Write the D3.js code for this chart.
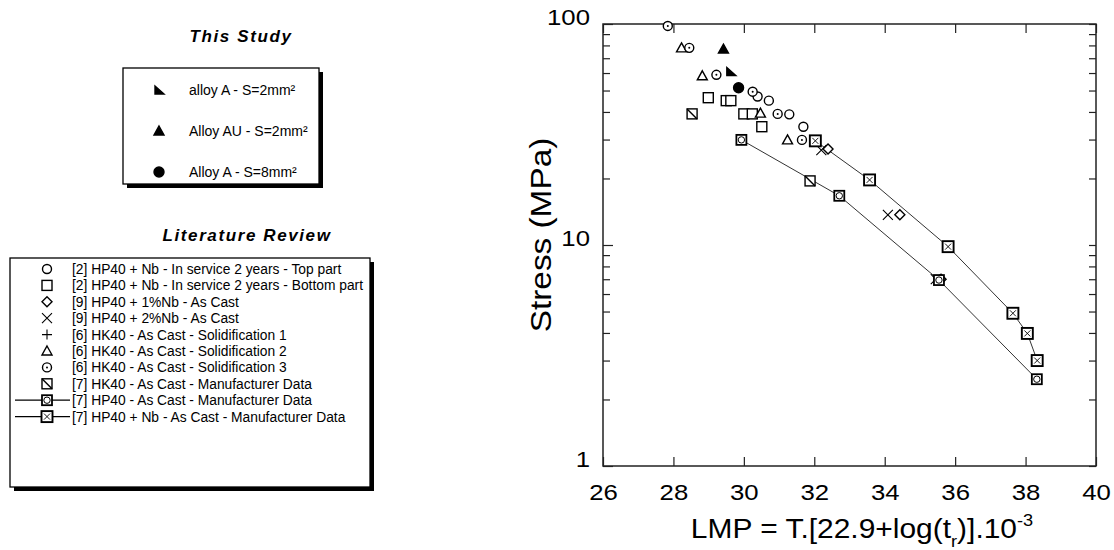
<!DOCTYPE html>
<html>
<head>
<meta charset="utf-8">
<script src="https://cdn.jsdelivr.net/npm/d3@7"></script>
<style>
  body { margin: 0; background: #fff; }
  text { font-family: "Liberation Sans", Arial, sans-serif; fill: #000; }
</style>
</head>
<body>
<svg id="chart" width="1114" height="550"></svg>
<script>
// ---- data: [LMP, stress MPa] ----
const alloyA2 = [[29.63, 61]];
const alloyAU2 = [[29.42, 77]];
const alloyA8 = [[29.85, 51.5]];

const hp40NbTop = [[30.39, 47], [30.71, 45], [31.29, 39], [31.69, 34.3]];
const hp40NbBottom = [[28.99, 46.4], [29.5, 45], [29.63, 45], [30.0, 39.2], [30.24, 39.2], [30.51, 34.3]];
const hp40Nb1 = [[32.39, 27.2], [34.43, 13.7], [35.6, 7]];
const hp40Nb2 = [[32.2, 26.9], [34.09, 13.7], [35.45, 7]];
const hk40Sol1 = [];
const hk40Sol2 = [[28.23, 78], [28.82, 58.3], [30.47, 39.5], [31.24, 29.9]];
const hk40Sol3 = [[27.84, 98], [28.45, 78], [29.22, 58.9], [30.25, 49.4], [30.96, 39.2], [31.65, 29.9]];
const hk40Manuf = [[28.53, 39.2], [31.88, 19.5]];
const hp40Manuf = [[29.93, 29.9], [32.71, 16.7], [35.54, 6.94], [38.32, 2.47]];
const hp40NbManuf = [[32.03, 29.6], [33.57, 19.7], [35.8, 9.83], [37.64, 4.91], [38.05, 3.98], [38.33, 3.0]];

const xTicks = [26, 28, 30, 32, 34, 36, 38, 40];
const yLabels = [1, 10, 100];

const studyLegend = [
  { sym: "rightTri", label: "alloy A - S=2mm²" },
  { sym: "triFill", label: "Alloy AU - S=2mm²" },
  { sym: "dotFill", label: "Alloy A - S=8mm²" },
];
const litLegend = [
  { sym: "circle", label: "[2] HP40 + Nb - In service 2 years - Top part" },
  { sym: "square", label: "[2] HP40 + Nb - In service 2 years - Bottom part" },
  { sym: "diamond", label: "[9] HP40 + 1%Nb - As Cast" },
  { sym: "cross", label: "[9] HP40 + 2%Nb - As Cast" },
  { sym: "plus", label: "[6] HK40 - As Cast - Solidification 1" },
  { sym: "triangle", label: "[6] HK40 - As Cast - Solidification 2" },
  { sym: "circleDot", label: "[6] HK40 - As Cast - Solidification 3" },
  { sym: "squareDiag", label: "[7] HK40 - As Cast - Manufacturer Data" },
  { sym: "squareCircle", label: "[7] HP40 - As Cast - Manufacturer Data", line: true },
  { sym: "squareX", label: "[7] HP40 + Nb - As Cast - Manufacturer Data", line: true },
];

const svg = d3.select("#chart");

// ---- markers ----
function marker(g, sym, cx, cy) {
  const m = g.append("g").attr("transform", `translate(${cx},${cy})`)
    .attr("fill", "#fff").attr("stroke", "#000").attr("stroke-width", 1.4);
  switch (sym) {
    case "circle":
      m.append("circle").attr("r", 4.5); break;
    case "circleDot":
      m.append("circle").attr("r", 4.5);
      m.append("circle").attr("r", 1).attr("fill", "#000").attr("stroke", "none"); break;
    case "square":
      m.append("rect").attr("x", -5).attr("y", -5).attr("width", 10).attr("height", 10); break;
    case "squareDiag":
      m.append("rect").attr("x", -5).attr("y", -5).attr("width", 10).attr("height", 10);
      m.append("line").attr("x1", -5).attr("y1", -5).attr("x2", 5).attr("y2", 5); break;
    case "squareCircle":
      m.append("rect").attr("x", -5).attr("y", -5).attr("width", 10).attr("height", 10).attr("stroke-width", 1.8);
      m.append("circle").attr("r", 3.2).attr("stroke-width", 1); break;
    case "squareX":
      m.append("rect").attr("x", -5.5).attr("y", -5.5).attr("width", 11).attr("height", 11).attr("stroke-width", 1.9);
      m.append("path").attr("d", "M-3,-3L3,3M-3,3L3,-3").attr("stroke-width", 0.9); break;
    case "diamond":
      m.append("path").attr("d", "M0,-5L5,0L0,5L-5,0Z"); break;
    case "cross":
      m.append("path").attr("d", "M-5,-5L5,5M-5,5L5,-5").attr("stroke-width", 1.1); break;
    case "plus":
      m.append("path").attr("d", "M-5,0L5,0M0,-5L0,5").attr("stroke-width", 1.1); break;
    case "triangle":
      m.append("path").attr("d", "M0,-5L5,4L-5,4Z"); break;
    case "triFill":
      m.append("path").attr("d", "M0,-5L5,4L-5,4Z").attr("fill", "#000"); break;
    case "rightTri":
      m.append("path").attr("d", "M-4,-4L5,4L-4,4Z").attr("fill", "#000"); break;
    case "dotFill":
      m.append("circle").attr("r", 5).attr("fill", "#000"); break;
  }
}

// ---- plot ----
const x = d3.scaleLinear().domain([26, 40]).range([603, 1096]);
const y = d3.scaleLog().domain([1, 100]).range([466, 24]);

const allY = d3.range(1, 10).concat(d3.range(10, 100, 10), [100]);
const isMajor = (d) => yLabels.includes(d);
const wide = 1.12; // tick labels in the original are drawn a bit wider than Arial

svg.append("g").attr("transform", "translate(0,466)")
  .call(d3.axisBottom(x).tickValues(xTicks).tickSizeInner(-9).tickSizeOuter(0).tickPadding(18))
  .call((g) => g.select(".domain").remove())
  .call((g) => g.selectAll("text").attr("transform", `scale(${wide},1)`)
    .style("font-size", "23px").style("font-family", "Liberation Sans, Arial, sans-serif"));

svg.append("g").attr("transform", "translate(0,24)")
  .call(d3.axisTop(x).tickValues(xTicks).tickSizeInner(-9).tickSizeOuter(0).tickFormat(""))
  .call((g) => g.select(".domain").remove());

svg.append("g").attr("transform", "translate(603,0)")
  .call(d3.axisLeft(y).tickValues(allY).tickSizeInner(-7).tickSizeOuter(0).tickPadding(13)
    .tickFormat((d) => (isMajor(d) ? d : "")))
  .call((g) => g.select(".domain").remove())
  .call((g) => g.selectAll(".tick line").attr("x2", (d) => (isMajor(d) ? 10 : 7)))
  .call((g) => g.selectAll("text").attr("x", -13 / wide).attr("y", -7)
    .attr("transform", `scale(${wide},1)`)
    .style("font-size", "23px").style("font-family", "Liberation Sans, Arial, sans-serif"));

svg.append("g").attr("transform", "translate(1096,0)")
  .call(d3.axisRight(y).tickValues(allY).tickSizeInner(-7).tickSizeOuter(0).tickFormat(""))
  .call((g) => g.select(".domain").remove());

svg.selectAll(".tick line").attr("stroke", "#222").attr("stroke-width", 1.2);

svg.append("rect").attr("x", 603).attr("y", 24).attr("width", 493).attr("height", 442)
  .attr("fill", "none").attr("stroke", "#222").attr("stroke-width", 1.5);

const line = d3.line().x((d) => x(d[0])).y((d) => y(d[1]));
[hp40Manuf, hp40NbManuf].forEach((s) => {
  svg.append("path").datum(s).attr("d", line)
    .attr("fill", "none").attr("stroke", "#333").attr("stroke-width", 1);
});

const pts = svg.append("g");
const series = [
  [hk40Manuf, "squareDiag"], [hp40NbBottom, "square"], [hp40NbTop, "circle"],
  [hk40Sol2, "triangle"], [hk40Sol1, "plus"], [hk40Sol3, "circleDot"],
  [hp40Nb2, "cross"], [hp40Nb1, "diamond"],
  [hp40Manuf, "squareCircle"], [hp40NbManuf, "squareX"],
  [alloyAU2, "triFill"], [alloyA2, "rightTri"], [alloyA8, "dotFill"],
];
series.forEach(([data, sym]) => data.forEach((d) => marker(pts, sym, x(d[0]), y(d[1]))));

// axis titles
svg.append("text").attr("transform", "translate(551,235) rotate(-90) scale(1.15,1)")
  .attr("text-anchor", "middle").style("font-size", "29px").text("Stress (MPa)");

const xl = svg.append("text").attr("transform", "translate(862,538) scale(1.07,1)")
  .attr("text-anchor", "middle").style("font-size", "28px");
xl.append("tspan").text("LMP = T.[22.9+log(t");
xl.append("tspan").attr("dy", 9).style("font-size", "17px").text("r");
xl.append("tspan").attr("dy", -9).text(")].10");
xl.append("tspan").attr("dy", -12).style("font-size", "17px").text("-3");

// ---- legends ----
function box(x0, y0, w, h) {
  svg.append("rect").attr("x", x0 + 4).attr("y", y0 + 4).attr("width", w).attr("height", h).attr("fill", "#000");
  svg.append("rect").attr("x", x0).attr("y", y0).attr("width", w).attr("height", h)
    .attr("fill", "#fff").attr("stroke", "#000").attr("stroke-width", 1.3);
}

function title(cx, cy, txt) {
  svg.append("text").attr("x", cx).attr("y", cy).attr("text-anchor", "middle")
    .style("font-size", "17px").style("font-weight", "bold").style("font-style", "italic")
    .style("letter-spacing", "1.6px").text(txt);
}

title(241, 42, "This Study");
box(123, 68, 196, 116);
const sg = svg.append("g");
studyLegend.forEach((d, i) => {
  const yy = 90 + i * 41;
  marker(sg, d.sym, 159, yy);
  sg.append("text").attr("x", 189).attr("y", yy + 5).style("font-size", "14px").text(d.label);
});

title(247, 241, "Literature Review");
box(10, 258, 360, 229);
const lg = svg.append("g");
litLegend.forEach((d, i) => {
  const yy = 269 + i * 16.4;
  if (d.line) {
    lg.append("line").attr("x1", 15).attr("x2", 70).attr("y1", yy).attr("y2", yy)
      .attr("stroke", "#000").attr("stroke-width", 1.2);
  }
  marker(lg, d.sym, 47, yy);
  lg.append("text").attr("x", 72).attr("y", yy + 5).style("font-size", "13.8px").text(d.label);
});
</script>
</body>
</html>
